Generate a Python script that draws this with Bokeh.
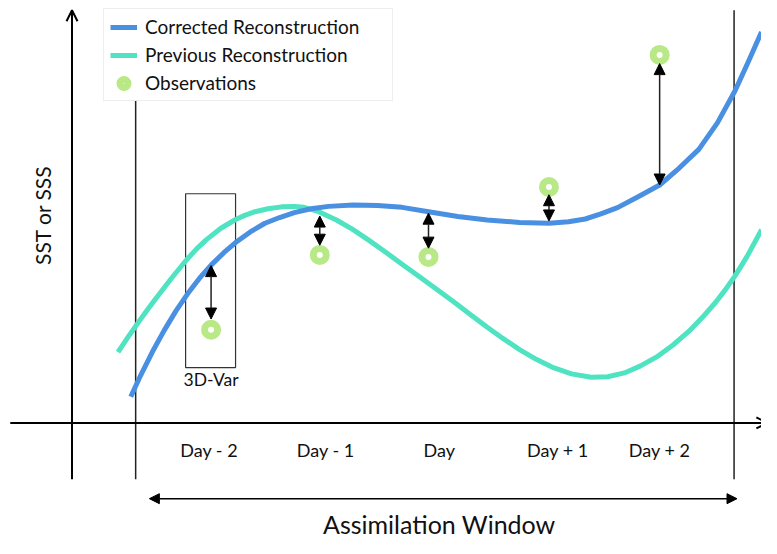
import numpy as np
from bokeh.plotting import figure
from bokeh.models import (Range1d, Arrow, NormalHead, OpenHead, Legend, LegendItem,
                          ColumnDataSource, Label)
from bokeh.core.properties import value
from bokeh.embed import file_html
from bokeh.resources import INLINE

# ---- data (schematic; x = time position, y = drawn level, downward) ----
corrected_x = [133, 143, 155, 167, 179, 191, 203, 215, 228, 240, 255, 270, 285, 300, 317,
               335, 360, 385, 410, 437, 467, 497, 530, 560, 580, 597, 613, 630, 652, 673,
               693, 713, 732, 750, 764, 777]
corrected_y = [408, 386.2, 362, 339.9, 319.9, 302, 286.2, 272.5, 259.7, 249.3, 238.3, 229.4,
               223.5, 218.5, 214.5, 212, 210.5, 211, 213, 217.5, 222.5, 226, 228.5, 229.3,
               227.8, 225, 219.8, 213.3, 201.5, 190, 172.5, 153.3, 126, 93, 62, 32.5]

previous_x = [120, 130, 140, 150, 160, 175, 190, 200, 210, 225, 240, 250, 260, 273, 287,
              300, 310, 325, 343, 360, 377, 393, 410, 425, 440, 463, 480, 497, 513, 530,
              547, 563, 583, 603, 620, 637, 653, 670, 687, 703, 717, 730, 740, 750, 762,
              775, 777]
previous_y = [362, 347, 332.5, 318.5, 305, 285.5, 267, 256, 246.5, 234.5, 225.5, 221, 217.5,
              214.5, 212.5, 212, 213, 217.5, 226, 236, 247.5, 259, 271.5, 282.5, 293.5,
              310.5, 323.5, 336.5, 348, 359.5, 369.5, 377.5, 384.5, 388, 387.5, 383.5,
              376.5, 367, 354.5, 340.5, 326, 311, 298, 283.5, 264, 240, 236]

obs_x = [215, 326, 437, 560, 673]
obs_y = [339, 262, 264, 192, 56]

innov_start_y = [273, 222, 219, 200, 65]
innov_end_y = [328, 252, 255, 227, 190]

day_labels = ["Day - 2", "Day - 1", "Day", "Day + 1", "Day + 2"]
day_label_x = [213, 332, 448, 569, 673]

BLUE = "#4A90E2"
TEAL = "#50E3C2"
OBS = "#B8E986"
INK = "#111111"
FONT = "Lato"

p = figure(width=761, height=538, x_range=Range1d(0, 777), y_range=Range1d(554, 0),
           x_axis_location=None, y_axis_location=None, toolbar_location=None,
           output_backend="svg", min_border=0, outline_line_color=None)
p.grid.visible = False

# axes of the schematic
p.add_layout(Arrow(x_start=73, y_start=493, x_end=73, y_end=10, line_width=2, line_color="black",
                   end=OpenHead(size=11, line_width=2, line_color="black")))
p.add_layout(Arrow(x_start=10, y_start=435, x_end=783, y_end=435, line_width=2, line_color="black",
                   end=OpenHead(size=11, line_width=2, line_color="black")))
# assimilation window bounds
p.segment(x0=[138, 749], y0=[10, 10], x1=[138, 749], y1=[493, 493],
          line_color="#222222", line_width=1.5)

# 3D-Var box
p.quad(left=[189], right=[240], top=[199], bottom=[378], fill_color=None,
       line_color="#333333", line_width=1.2)
p.text(x=[215], y=[390], text=["3D-Var"], text_font=value(FONT), text_font_size="17.5px",
       text_align="center", text_baseline="middle", text_color=INK)

# curves
r_prev = p.line(previous_x, previous_y, line_color=TEAL, line_width=5, line_join="round")
r_corr = p.line(corrected_x, corrected_y, line_color=BLUE, line_width=5, line_join="round")

# innovation arrows
src = ColumnDataSource(dict(x0=obs_x, y0=innov_start_y, x1=obs_x, y1=innov_end_y))
p.add_layout(Arrow(source=src, x_start="x0", y_start="y0", x_end="x1", y_end="y1",
                   line_color="#222222", line_width=1.5,
                   start=NormalHead(size=11, fill_color="black", line_color="black"),
                   end=NormalHead(size=11, fill_color="black", line_color="black")))

# observations
r_obs = p.scatter(obs_x, obs_y, size=13, fill_color="white", line_color=OBS, line_width=7)

# day labels
p.text(x=day_label_x, y=[463] * 5, text=day_labels, text_font=value(FONT), text_font_size="18px",
       text_align="center", text_baseline="middle", text_color=INK)

# assimilation window arrow and title
p.add_layout(Arrow(x_start=152, y_start=513, x_end=752, y_end=513, line_color="black", line_width=1.5,
                   start=NormalHead(size=10, fill_color="black", line_color="black"),
                   end=NormalHead(size=10, fill_color="black", line_color="black")))
p.text(x=[448], y=[539], text=["Assimilation Window"], text_font=value(FONT),
       text_font_size="25px", text_align="center", text_baseline="middle", text_color=INK)

# y label
p.add_layout(Label(x=43, y=221, text="SST or SSS", angle=np.pi / 2, angle_units="rad",
                   text_font=FONT, text_font_size="21px", text_align="center",
                   text_baseline="middle", text_color=INK))

legend = Legend(items=[LegendItem(label="Corrected Reconstruction", renderers=[r_corr]),
                       LegendItem(label="Previous Reconstruction", renderers=[r_prev]),
                       LegendItem(label="Observations", renderers=[r_obs])],
                location=(103, 437), padding=6, spacing=5, margin=0,
                glyph_width=27, glyph_height=20, label_height=20, label_width=241,
                label_standoff=8, label_text_font=FONT, label_text_font_size="19px",
                label_text_color=INK, border_line_color="#dddddd",
                background_fill_color="white", background_fill_alpha=1.0)
p.add_layout(legend)

open("out.html", "w").write(file_html(p, INLINE))
